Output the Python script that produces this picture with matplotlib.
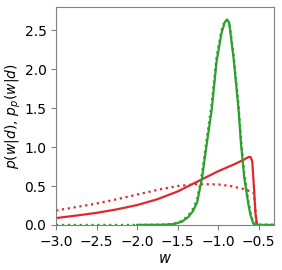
import numpy as np
import matplotlib
matplotlib.use("Agg")
import matplotlib.pyplot as plt

# red: solid p(w|d), dotted p_p(w|d)
w_red = [-3.0, -2.75, -2.5, -2.25, -2.0, -1.75, -1.5, -1.25, -1.0, -0.8,
         -0.7, -0.62, -0.6, -0.58, -0.56, -0.54, -0.52]
p_red = [0.088, 0.12, 0.155, 0.20, 0.255, 0.33, 0.43, 0.56, 0.69, 0.78,
         0.83, 0.875, 0.87, 0.82, 0.5, 0.15, 0.0]

w_red_p = [-3.0, -2.75, -2.5, -2.25, -2.0, -1.75, -1.5, -1.25, -1.0, -0.85,
           -0.7, -0.6, -0.56, -0.545, -0.53, -0.52, -0.3]
p_red_p = [0.185, 0.23, 0.275, 0.33, 0.39, 0.45, 0.50, 0.525, 0.52, 0.50,
           0.465, 0.43, 0.41, 0.25, 0.02, 0.0, 0.0]

# green: narrow peak
w_grn = [-2.0, -1.7, -1.55, -1.45, -1.37, -1.31, -1.26, -1.2, -1.14, -1.08,
         -1.02, -0.96, -0.92, -0.893, -0.865, -0.85, -0.81, -0.75, -0.72,
         -0.68, -0.63, -0.6, -0.565, -0.54, -0.3]
p_grn = [0.0, 0.002, 0.01, 0.04, 0.10, 0.18, 0.29, 0.6, 1.05, 1.48,
         2.1, 2.46, 2.6, 2.64, 2.6, 2.48, 2.14, 1.5, 1.06,
         0.62, 0.28, 0.12, 0.015, 0.0, 0.0]

w_grn_p = [-3.0, -2.0, -1.7, -1.55, -1.45, -1.37, -1.31, -1.26, -1.2, -1.14,
           -1.08, -1.02, -0.96, -0.92, -0.895, -0.865, -0.85, -0.81, -0.75,
           -0.72, -0.68, -0.63, -0.6, -0.565, -0.54, -0.3]
p_grn_p = [0.0, 0.0, 0.004, 0.015, 0.05, 0.12, 0.21, 0.33, 0.66, 1.12,
           1.56, 2.16, 2.5, 2.62, 2.63, 2.6, 2.5, 2.18, 1.56,
           1.12, 0.68, 0.32, 0.15, 0.03, 0.005, 0.0]

red = '#e0282c'
green = '#2ca02c'

fig = plt.figure(figsize=(2.82, 2.7), dpi=100)
ax = fig.add_axes([0.199, 0.167, 0.773, 0.807])

ax.plot(w_red, p_red, color=red, lw=1.6)
ax.plot(w_red_p, p_red_p, color=red, lw=1.6, ls=':')
ax.plot(w_grn, p_grn, color=green, lw=1.6)
ax.plot(w_grn_p, p_grn_p, color=green, lw=1.6, ls=':')

ax.set_xlim(-3.0, -0.31)
ax.set_ylim(0, 2.8)
ax.set_xticks(np.arange(-3.0, -0.49, 0.5))
ax.set_yticks(np.arange(0, 2.51, 0.5))

for s in ax.spines.values():
    s.set_color('gray')
ax.tick_params(colors='gray', labelcolor='black', labelsize=10)

ax.set_xlabel('$w$', fontsize=10.5, labelpad=2)
ax.set_ylabel('$p(w|d),\\, p_p(w|d)$', fontsize=10, labelpad=1)

fig.savefig('out.png', dpi=100)
